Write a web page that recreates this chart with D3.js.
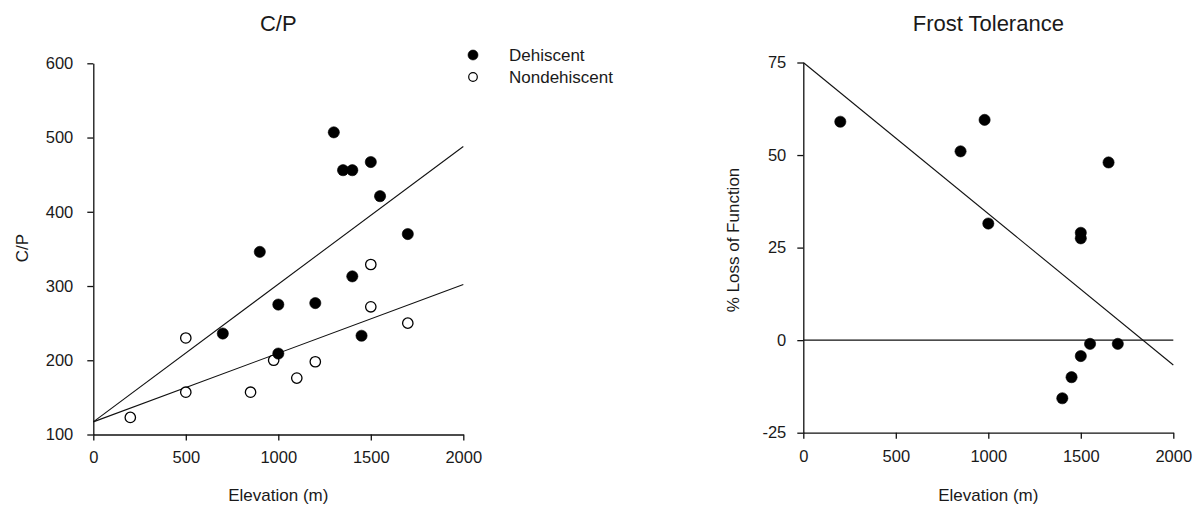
<!DOCTYPE html>
<html>
<head>
<meta charset="utf-8">
<script src="https://cdn.jsdelivr.net/npm/d3@7/dist/d3.min.js"></script>
<style>
  html, body { margin: 0; padding: 0; background: #fff; }
  svg text { font-family: "Liberation Sans", Arial, sans-serif; fill: #1a1a1a; }
</style>
</head>
<body>
<svg id="chart" width="1203" height="511"></svg>
<script>
// ---- C/P vs elevation ----
const dehElev = [700, 900, 1000, 1000, 1200, 1300, 1350, 1400, 1400, 1450, 1500, 1550, 1700];
const dehCP   = [236, 346, 275, 209, 277, 507, 456, 456, 313, 233, 467, 421, 370];
const nondehElev = [200, 500, 500, 850, 975, 1100, 1200, 1500, 1500, 1700];
const nondehCP   = [123, 230, 157, 157, 200, 176, 198, 329, 272, 250];
// fitted lines: [value at 0 m, value at 2000 m]
const dehFit    = [117, 488];
const nondehFit = [117, 302];
const cpTicks = [100, 200, 300, 400, 500, 600];

// ---- Frost tolerance vs elevation ----
const frostElev = [200, 850, 980, 1000, 1500, 1500, 1650, 1550, 1700, 1500, 1450, 1400];
const frostLoss = [59, 51, 59.5, 31.5, 29, 27.5, 48, -1, -1, -4.3, -10, -15.7];
const frostFit  = [75, -6.7];
const lossTicks = [-25, 0, 25, 50, 75];

const elevTicks = [0, 500, 1000, 1500, 2000];

const svg = d3.select("#chart");
// plain hyphen-minus for negative tick labels
const plainNum = d => String(d);

function styleAxis(g) {
  g.selectAll("path.domain").attr("stroke", "#111").attr("stroke-width", 1.3);
  g.selectAll(".tick line").attr("stroke", "#111").attr("stroke-width", 1.3);
  g.selectAll(".tick text")
    .attr("font-size", 16.5)
    .attr("font-family", "Liberation Sans, Arial, sans-serif")
    .attr("fill", "#1a1a1a");
}

function panel(opts) {
  const x = d3.scaleLinear().domain([0, 2000]).range(opts.xRange);
  const y = d3.scaleLinear().domain(opts.yDomain).range(opts.yRange);
  const g = svg.append("g");

  // axes
  g.append("g")
    .attr("transform", `translate(0,${opts.yRange[0]})`)
    .call(d3.axisBottom(x).tickValues(elevTicks).tickSize(6).tickPadding(opts.xPad).tickSizeOuter(0)
      .tickFormat(plainNum))
    .call(styleAxis);
  g.append("g")
    .attr("transform", `translate(${opts.xRange[0]},0)`)
    .call(d3.axisLeft(y).tickValues(opts.yTicks).tickSize(6).tickPadding(opts.yPad).tickSizeOuter(0)
      .tickFormat(plainNum))
    .call(styleAxis);

  // titles
  g.append("text")
    .attr("x", (opts.xRange[0] + opts.xRange[1]) / 2)
    .attr("y", 31)
    .attr("text-anchor", "middle")
    .attr("font-size", 22)
    .text(opts.title);
  g.append("text")
    .attr("x", (opts.xRange[0] + opts.xRange[1]) / 2)
    .attr("y", 501)
    .attr("text-anchor", "middle")
    .attr("font-size", 17)
    .text("Elevation (m)");
  g.append("text")
    .attr("transform", `translate(${opts.yTitleX},${opts.yTitleY}) rotate(-90)`)
    .attr("text-anchor", "middle")
    .attr("font-size", 17)
    .text(opts.yTitle);

  return { g, x, y };
}

function fitLine(p, fit) {
  p.g.append("line")
    .attr("x1", p.x(0)).attr("y1", p.y(fit[0]))
    .attr("x2", p.x(2000)).attr("y2", p.y(fit[1]))
    .attr("stroke", "#111").attr("stroke-width", 1.1);
}

function dots(p, xs, ys, filled) {
  p.g.append("g").selectAll("circle")
    .data(xs.map((v, i) => [v, ys[i]]))
    .join("circle")
    .attr("cx", d => p.x(d[0]))
    .attr("cy", d => p.y(d[1]))
    .attr("r", filled ? 5.6 : 5.2)
    .attr("fill", filled ? "#000" : "#fff")
    .attr("stroke", "#000")
    .attr("stroke-width", filled ? 0.6 : 1.3);
}

// left panel
const left = panel({
  xRange: [93.3, 463.3], yDomain: [100, 600], yRange: [434.5, 63.3],
  yTicks: cpTicks, title: "C/P", yTitle: "C/P", yTitleX: 28, yTitleY: 248,
  xPad: 11, yPad: 14
});
fitLine(left, dehFit);
fitLine(left, nondehFit);
dots(left, nondehElev, nondehCP, false);
dots(left, dehElev, dehCP, true);

// legend
const legendItems = [["Dehiscent", true], ["Nondehiscent", false]];
const lg = svg.append("g");
legendItems.forEach(([label, filled], i) => {
  const cy = 55 + i * 22;
  lg.append("circle")
    .attr("cx", 473).attr("cy", cy).attr("r", filled ? 5 : 4.3)
    .attr("fill", filled ? "#000" : "#fff")
    .attr("stroke", "#000").attr("stroke-width", filled ? 0.6 : 1.2);
  lg.append("text")
    .attr("x", 509).attr("y", cy).attr("dy", "0.35em")
    .attr("font-size", 17)
    .text(label);
});

// right panel
const right = panel({
  xRange: [803.3, 1173.3], yDomain: [-25, 75], yRange: [432.7, 62.5],
  yTicks: lossTicks, title: "Frost Tolerance", yTitle: "% Loss of Function", yTitleX: 739, yTitleY: 240,
  xPad: 12, yPad: 11
});
// zero reference line
right.g.append("line")
  .attr("x1", right.x(0)).attr("x2", right.x(2000))
  .attr("y1", right.y(0)).attr("y2", right.y(0))
  .attr("stroke", "#111").attr("stroke-width", 1.3);
fitLine(right, frostFit);
dots(right, frostElev, frostLoss, true);
</script>
</body>
</html>
